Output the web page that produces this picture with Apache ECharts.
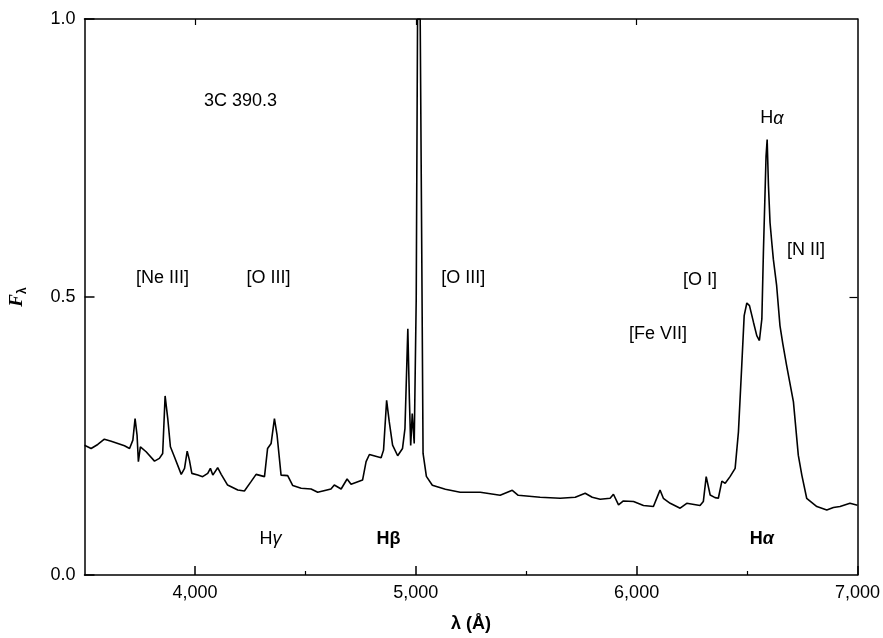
<!DOCTYPE html>
<html>
<head>
<meta charset="utf-8">
<script src="https://cdn.jsdelivr.net/npm/echarts@6/dist/echarts.min.js"></script>
<style>html,body{margin:0;padding:0;background:#fff}#c{width:883px;height:638px}</style>
</head>
<body>
<div id="c"></div>
<script>
// Wavelength (Å) and flux (normalised F_lambda)
const wavelength = [3500,3530,3560,3590,3621,3651,3681,3704,3719,3729,3738,3744,3753,3779,3817,3839,3854,3865,3877,3889,3907,3938,3953,3965,3975,3986,4013,4035,4058,4070,4081,4103,4119,4148,4194,4224,4254,4277,4315,4329,4345,4360,4372,4390,4420,4443,4481,4526,4556,4616,4631,4662,4689,4707,4759,4775,4790,4843,4854,4868,4880,4895,4918,4940,4951,4964,4971,4977,4984,4993,5002,5008,5020,5027,5033,5048,5075,5134,5201,5292,5382,5437,5464,5563,5654,5722,5767,5799,5835,5880,5895,5918,5940,5986,6031,6076,6094,6106,6121,6152,6197,6227,6287,6302,6315,6333,6355,6370,6386,6401,6423,6446,6461,6476,6487,6499,6511,6529,6544,6556,6567,6574,6586,6591,6597,6604,6612,6619,6634,6649,6662,6679,6710,6732,6748,6770,6816,6861,6891,6921,6966,7000];
const flux = [0.2335,0.2276,0.2348,0.2443,0.2407,0.2366,0.2324,0.2276,0.2425,0.2814,0.2514,0.2038,0.2306,0.2217,0.2048,0.2097,0.2186,0.3220,0.2814,0.2306,0.2127,0.1810,0.1918,0.2228,0.2066,0.1828,0.1797,0.1769,0.1828,0.1918,0.1797,0.1930,0.1810,0.1618,0.1529,0.1511,0.1679,0.1810,0.1769,0.2276,0.2366,0.2814,0.2514,0.1797,0.1787,0.1608,0.1559,0.1547,0.1487,0.1547,0.1618,0.1547,0.1726,0.1631,0.1708,0.2038,0.2168,0.2109,0.2246,0.3142,0.2754,0.2335,0.2145,0.2276,0.2634,0.4427,0.3172,0.2330,0.2903,0.2366,0.4964,1.0,1.0,0.586,0.2186,0.1774,0.1613,0.1541,0.1487,0.1487,0.1434,0.1523,0.1434,0.1398,0.1380,0.1398,0.1470,0.1398,0.1362,0.1380,0.1452,0.1260,0.1332,0.1321,0.1249,0.1231,0.1410,0.1529,0.1380,0.1290,0.1201,0.1290,0.1249,0.1321,0.1769,0.1439,0.1392,0.1380,0.1690,0.1649,0.1769,0.1918,0.2575,0.3769,0.4665,0.4892,0.4844,0.4547,0.4306,0.4217,0.4606,0.5801,0.7532,0.7832,0.6995,0.6339,0.5980,0.5681,0.5203,0.4486,0.4158,0.3769,0.3113,0.2156,0.1797,0.1380,0.1231,0.1170,0.1213,0.1231,0.1290,0.1254];

const xMajorTicks = [4000, 5000, 6000, 7000];
const xMinorTicks = [4500, 5500, 6500];
const yTicks = [0, 0.5, 1.0];

// Line annotations: wavelength, flux position, text
const annoLambda = [4206, 3853, 4333, 5215, 6287, 6097, 6612, 6767, 4342, 4876, 6567];
const annoFlux   = [0.853, 0.534, 0.534, 0.534, 0.530, 0.434, 0.821, 0.585, 0.064, 0.064, 0.064];
const annoText   = ['3C 390.3', '[Ne III]', '[O III]', '[O III]', '[O I]', '[Fe VII]', 'H{i|α}', '[N II]', 'H{i|γ}', '{b|Hβ}', '{b|H}{bi|α}'];

const FONT = '"Liberation Sans", Arial, Helvetica, sans-serif';
const fmtThousands = v => String(Math.round(v)).replace(/\B(?=(\d{3})+(?!\d))/g, ',');

const chart = echarts.init(document.getElementById('c'), null, {renderer: 'canvas'});
const spectrum = wavelength.map((w, i) => [w, flux[i]]);
const annos = annoLambda.map((w, i) => ({value: [w, annoFlux[i]], label: {formatter: annoText[i]}}));

const axisLineStyle = {show: true, lineStyle: {color: '#000', width: 1.5}};
chart.setOption({
  animation: false,
  backgroundColor: '#fff',
  grid: {left: 84, right: 25, top: 19, bottom: 61, show: false, containLabel: false},
  xAxis: [
    {type: 'value', position: 'bottom', min: 3500, max: 7000, splitLine: {show: false},
     axisLine: axisLineStyle,
     axisTick: {show: true, inside: true, length: 9, lineStyle: {color: '#000', width: 1.5}, customValues: xMajorTicks},
     axisLabel: {show: true, customValues: xMajorTicks, formatter: fmtThousands, color: '#000', fontSize: 18, fontFamily: FONT, margin: 9},
     name: 'λ (Å)', nameLocation: 'middle', nameGap: 40,
     nameTextStyle: {color: '#000', fontSize: 18, fontWeight: 'bold', fontFamily: FONT}},
    {type: 'value', position: 'bottom', min: 3500, max: 7000, splitLine: {show: false},
     axisLine: {show: false},
     axisTick: {show: true, inside: true, length: 4, lineStyle: {color: '#000', width: 1.2}, customValues: xMinorTicks},
     axisLabel: {show: false}},
    {type: 'value', position: 'top', min: 3500, max: 7000, splitLine: {show: false},
     axisLine: axisLineStyle,
     axisTick: {show: true, inside: true, length: 6, lineStyle: {color: '#000', width: 1.2}, customValues: [4000, 5000, 6000]},
     axisLabel: {show: false}}
  ],
  yAxis: [
    {type: 'value', position: 'left', min: 0, max: 1, interval: 0.5, splitLine: {show: false},
     axisLine: axisLineStyle,
     axisTick: {show: true, inside: true, length: 10, lineStyle: {color: '#000', width: 1.5}, customValues: yTicks},
     axisLabel: {show: true, formatter: v => v.toFixed(1), color: '#000', fontSize: 18, fontFamily: FONT, margin: 9},
     name: '{f|F}{s|λ}', nameLocation: 'middle', nameGap: 56, nameRotate: 90,
     nameTextStyle: {color: '#000', fontFamily: FONT,
       rich: {f: {fontSize: 19, fontStyle: 'italic', fontWeight: 'bold', fontFamily: 'Liberation Serif, serif', color: '#000'},
              s: {fontSize: 12, fontWeight: 'bold', fontFamily: FONT, color: '#000', padding: [10, 0, 0, 0]}}}},
    {type: 'value', position: 'right', min: 0, max: 1, interval: 0.5, splitLine: {show: false},
     axisLine: axisLineStyle,
     axisTick: {show: true, inside: true, length: 8, lineStyle: {color: '#000', width: 1.2}, customValues: [0.5]},
     axisLabel: {show: false}}
  ],
  series: [
    {type: 'line', xAxisIndex: 0, yAxisIndex: 0, data: spectrum, showSymbol: false, symbol: 'none',
     lineStyle: {color: '#000', width: 1.6}, silent: true, clip: true},
    {type: 'scatter', xAxisIndex: 0, yAxisIndex: 0, data: annos, symbolSize: 0, silent: true,
     itemStyle: {color: '#000', opacity: 1},
     label: {show: true, position: 'inside', color: '#000', opacity: 1, textBorderWidth: 0, fontSize: 18, fontFamily: FONT,
       rich: {i: {fontStyle: 'italic', fontSize: 18, fontFamily: FONT, color: '#000', textBorderWidth: 0},
              b: {fontWeight: 'bold', fontSize: 18, fontFamily: FONT, color: '#000', textBorderWidth: 0},
              bi: {fontWeight: 'bold', fontStyle: 'italic', fontSize: 18, fontFamily: FONT, color: '#000', textBorderWidth: 0}}}}
  ]
});
</script>
</body>
</html>
